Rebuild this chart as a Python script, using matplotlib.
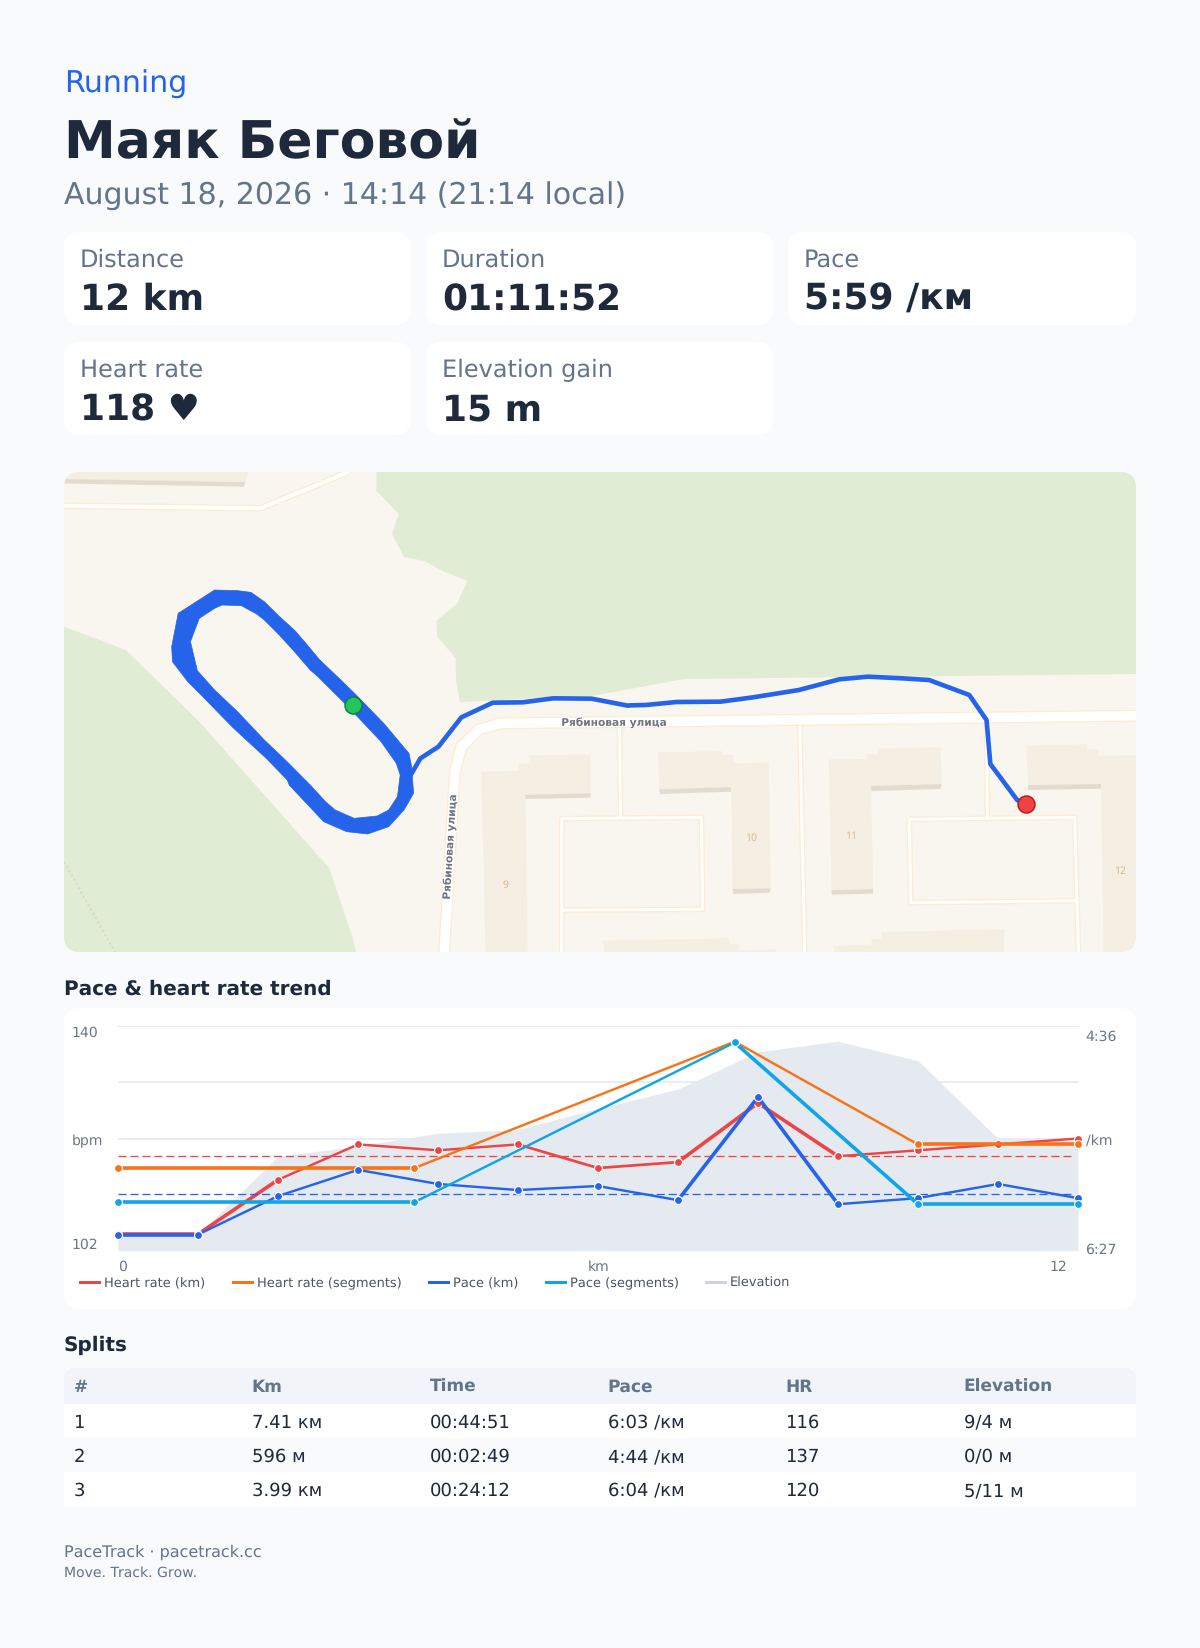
import matplotlib
matplotlib.use("Agg")
import matplotlib.pyplot as plt
from matplotlib.patches import FancyBboxPatch, Polygon, PathPatch, Rectangle
from matplotlib.path import Path
from matplotlib.transforms import Affine2D
import matplotlib.patheffects as pe

plt.rcParams["text.hinting"] = "none"
plt.rcParams["text.hinting_factor"] = 1
plt.rcParams["font.family"] = ["DejaVu Sans"]

# ---------- data ----------
activity = "Running"
title = "Маяк Беговой"
date_line = "August 18, 2026 · 14:14 (21:14 local)"
card_labels = ["Distance", "Duration", "Pace", "Heart rate", "Elevation gain"]
card_values = ["12 km", "01:11:52", "5:59 /км", "118 ♥", "15 m"]

km = [0, 1, 2, 3, 4, 5, 6, 7, 8, 9, 10, 11, 12]
hr_km = [104.8, 104.8, 114, 120, 119, 120, 116, 117, 127, 118, 119, 120, 121]
pace_km = [379, 379, 360, 347, 354, 357, 355, 362, 311, 364, 361, 354, 361]
seg_x = [0, 3.705, 7.708, 10.0, 12]
hr_seg = [116, 116, 137.4, 120, 120]
pace_seg = [363, 363, 284, 364, 364]
elev_x = [0, 1, 2, 3, 4, 5, 6, 7, 8, 9, 10, 11, 12]
elev = [151.1, 151.1, 156.3, 157.0, 157.85, 158.1, 159.5, 160.8, 163.3, 164.0, 162.7, 157.5, 157.3]
hr_avg = 118
pace_avg = 359
hr_ticks = [102, 121, 140]
hr_ticklabels = ["102", "bpm", "140"]
pace_ticks = [276, 331.5, 387]
pace_ticklabels = ["4:36", "/km", "6:27"]
x_ticks = [0, 6.01, 12]
x_ticklabels = ["0", "km", "12"]
grid_hr = [121, 130.5, 140]

split_header = ["#", "Km", "Time", "Pace", "HR", "Elevation"]
split_rows = [
    ["1", "7.41 км", "00:44:51", "6:03 /км", "116", "9/4 м"],
    ["2", "596 м", "00:02:49", "4:44 /км", "137", "0/0 м"],
    ["3", "3.99 км", "00:24:12", "6:04 /км", "120", "5/11 м"],
]

# route (crop coordinates of left / right halves)
loop_outer = [(430,390),(490,392),(525,397),(560,425),(600,470),(640,512),(665,545),(705,600),(760,660),(800,705),
              (872,790),(938,880),(945,920),(950,1000),(925,1050),(885,1100),(830,1122),(775,1115),(715,1085),
              (625,975),(620,960),(565,895),(480,805),(450,770),(395,705),(360,665),(320,605),(318,560),(335,460)]
loop_inner = [(450,435),(430,445),(390,475),(367,545),(385,632),(430,690),(490,755),(560,840),(615,900),(680,975),
              (720,1025),(745,1050),(795,1075),(855,1068),(885,1050),(908,1010),(915,945),(905,910),(865,845),
              (820,790),(770,730),(700,650),(680,630),(635,570),(595,520),(560,480),(540,462),(500,437)]
tail_left = [(945,940),(968,895),(1015,860),(1075,772),(1157,728),(1235,727),(1315,715),(1415,716),(1510,737)]
tail_right = [(80,736),(120,735),(200,726),(315,725),(400,712),(520,690),(625,658),(700,650),(790,655),(860,660),
              (965,705),(1010,780),(1020,912),(1090,1020),(1114,1032)]
start_pt = (793, 736)
end_pt = (1114, 1032)

# ---------- helpers ----------
W, H = 1200, 1648
BG = "#f8fafc"
INK = "#1e293b"
MUTED = "#64748b"
BLUE = "#2563eb"
RED = "#ef4444"
ORANGE = "#f97316"
CYAN = "#0ea5e9"
ELEV = "#e5e9f0"
GRID = "#e2e8f0"

def pt(px):
    return px * 0.72

def zl(p):
    return [(50 + x / 2.613, 460 + y / 3) for x, y in p]

def zr(p):
    return [(600 + x / 2.613, 460 + y / 3) for x, y in p]

fig = plt.figure(figsize=(W / 100, H / 100), dpi=100, facecolor=BG)
bg = fig.add_axes([0, 0, 1, 1], zorder=0)
bg.set_xlim(0, W)
bg.set_ylim(H, 0)
bg.axis("off")

def rbox(x0, y0, x1, y1, r=16, fc="white", z=1):
    p = FancyBboxPatch((x0, y0), x1 - x0, y1 - y0, boxstyle=f"round,pad=0,rounding_size={r}",
                       fc=fc, ec="none", zorder=z)
    bg.add_patch(p)
    return p

def txt(x, y, s, px, color=INK, weight="normal", **kw):
    return bg.text(x, y, s, fontsize=pt(px), color=color, fontweight=weight, va="baseline", ha=kw.pop("ha", "left"), zorder=kw.pop("zorder", 5), **kw)

# ---------- header ----------
txt(64, 93, activity, 30, BLUE)
txt(64, 158.5, title, 52, INK, "bold")
txt(64, 205, date_line, 30, MUTED)

card_x = [(64, 411), (426, 773), (788, 1136), (64, 411), (426, 773)]
card_y = [(232, 325), (232, 325), (232, 325), (342, 435), (342, 435)]
for (x0, x1), (y0, y1), lab, val in zip(card_x, card_y, card_labels, card_values):
    rbox(x0, y0, x1, y1)
    txt(x0 + 16, y0 + 35, lab, 24, MUTED)
    txt(x0 + 16, y0 + 78, val, 36, INK, "bold")

# ---------- map ----------
MX0, MX1, MY0, MY1 = 64, 1136, 472, 952
clip = rbox(MX0, MY0, MX1, MY1, r=16, fc="#f9f6ef", z=1)
GREEN = "#e1ecd5"
BLD = "#f5efe3"
SHADE = "#e3dbcf"
CASE = "#fdecd2"

def poly(points, fc, z=2):
    p = Polygon(points, closed=True, fc=fc, ec="none", zorder=z)
    bg.add_patch(p)
    p.set_clip_path(clip)

def road(points, w, z=3):
    xs, ys = zip(*points)
    a, = bg.plot(xs, ys, color=CASE, lw=pt(w + 2.6), solid_joinstyle="round", solid_capstyle="butt", zorder=z)
    b, = bg.plot(xs, ys, color="white", lw=pt(w), solid_joinstyle="round", solid_capstyle="butt", zorder=z + 0.1)
    a.set_clip_path(clip)
    b.set_clip_path(clip)

green_top = [(376.4,472),(376.4,490.7),(398.6,514),(392,534),(404,557),(424.3,561),(444.2,571.7),(467.5,581),(456.8,604),
             (436.5,620.7),(437.3,636.7),(455.7,658.3),(456,680),(459.9,702),(593.4,695.7),(684.2,679),(1136,674),(1136,472)]
green_left = [(64,626.7),(125.8,650),(199.3,721.7),(329.4,868.3),(352.3,936.7),(356,952),(64,952)]
poly(green_top, GREEN)
poly(green_left, GREEN)
l, = bg.plot([64, 115], [861.7, 952], color="#d5dccd", lw=1.6, ls=(0, (1, 1.2)), zorder=2.2)
l.set_clip_path(clip)

# buildings
poly([(64,472),(248,472),(245.2,482),(64,479)], BLD)
poly([(64,479),(245.2,482),(244,486.7),(64,483.5)], SHADE)
poly([(481.3,771.7),(518.8,770.7),(518.8,764),(530.3,763.3),(530.3,755.3),(590.4,754.3),(590.4,793.3),(525.3,794.7),(527.6,952),(485.5,952)], BLD)
poly([(525.3,794.7),(590.4,793.3),(590.4,797.7),(525.3,799)], SHADE)
poly([(658.2,752.3),(722.5,751.3),(722.5,755),(732.8,755),(732.8,763.3),(768.8,762.3),(770.7,888.3),(732.8,889),(730.9,787),(659.3,789.3)], BLD)
poly([(659.3,789.3),(730.9,787),(730.9,791.7),(660,794)], SHADE)
poly([(732.8,889),(770.7,888.3),(769.9,892.7),(733.2,894)], SHADE)
poly([(828.9,759.3),(867.1,759),(867.1,754.3),(877.5,754.3),(877.5,748.7),(940.6,747.3),(941.7,784),(871,786),(873.2,889),(831.5,890)], BLD)
poly([(871,786),(941.7,784),(940.6,789),(871,791)], SHADE)
poly([(831.5,890),(873.2,889),(872.9,893.7),(831.9,894.7)], SHADE)
poly([(1026.3,745.7),(1087.2,744.3),(1087.2,749.3),(1098.7,749.3),(1098.7,756),(1136,755),(1136,952),(1103.6,952),(1101,784),(1027.9,785)], BLD)
poly([(1027.9,785),(1101,784),(1101,788.7),(1028.2,790)], SHADE)
poly([(603,940.7),(729.4,938.3),(729.4,944),(738.5,944),(738.5,950.7),(775.3,949.3),(776,952),(603.8,952)], BLD)
poly([(834.2,946),(871.7,944.3),(871.7,939),(881.7,939),(881.7,932),(1004.5,929.3),(1004.5,952),(834.2,952)], BLD)

# roads
road([(64,505.7),(260.5,508.3),(348.5,472)], 4)
road([(619.5,726.7),(620.6,817.3)], 3)
road([(561.7,952),(561.7,818.7),(701.4,817.3),(702.6,909.3),(562.8,910)], 3)
road([(799.8,725),(804.7,952)], 3)
road([(986.5,723),(987.3,817.3)], 3)
road([(909.2,819.3),(1074.6,817.3),(1078.4,952)], 3)
road([(909.2,819.3),(910.8,902.7),(1076.5,900.7)], 3)
road([(444.2,952),(454.9,771.7),(461.4,746.7),(479.4,729.3),(500.8,723.3),(650,721.7),(1136,715.7)], 9.5, z=3.5)

for s, x, y in [("9", 505.8, 885.3), ("10", 750.8, 838.3), ("11", 851.4, 836.7), ("12", 1119.7, 871)]:
    t = bg.text(x, y, s, fontsize=pt(10.5), color="#d9b98f", ha="center", va="center", zorder=4, family="Noto Sans")
    t.set_clip_path(clip)
halo = [pe.withStroke(linewidth=1.5, foreground="white")]
bg.text(616, 722.7, "Рябиновая улица", fontsize=pt(10.6), color="#6e7684", fontweight="bold", ha="center", va="center",
        zorder=4, path_effects=halo)
bg.text(450, 845, "Рябиновая улица", fontsize=pt(10.6), color="#6e7684", fontweight="bold", ha="center", va="center",
        rotation=86.5, zorder=4, path_effects=halo)

# route
outer = zl(loop_outer)
inner = zl(loop_inner)
verts = outer + [outer[0]] + inner + [inner[0]]
codes = [Path.MOVETO] + [Path.LINETO] * (len(outer) - 1) + [Path.CLOSEPOLY] + [Path.MOVETO] + [Path.LINETO] * (len(inner) - 1) + [Path.CLOSEPOLY]
ring = PathPatch(Path(verts, codes), fc=BLUE, ec=BLUE, lw=0.5, zorder=6)
bg.add_patch(ring)
tail = zl(tail_left) + zr(tail_right)
bg.plot([p[0] for p in tail], [p[1] for p in tail], color=BLUE, lw=pt(4.6), solid_joinstyle="round", zorder=6)
sx, sy = zl([start_pt])[0]
ex, ey = zr([end_pt])[0]
bg.plot([sx], [sy], "o", ms=pt(17), mfc="#22c55e", mec="#15803d", mew=pt(1.5), zorder=7)
bg.plot([ex], [ey], "o", ms=pt(17), mfc=RED, mec="#b91c1c", mew=pt(1.5), zorder=7)

# ---------- trend chart ----------
txt(64, 995, "Pace & heart rate trend", 20, INK, "bold")
rbox(64, 1008, 1136, 1309)

PX0, PX1, PY0, PY1 = 118, 1079, 1026.3, 1250.7
ax = fig.add_axes([PX0 / W, 1 - PY1 / H, (PX1 - PX0) / W, (PY1 - PY0) / H], zorder=2)
ax.patch.set_alpha(0)
ax.set_xlim(0, 12.0125)
ax.set_ylim(102, 140)
for sp in ax.spines.values():
    sp.set_visible(False)

axg = ax.twinx()
axg.set_ylim(102, 140)
axg.axis("off")
for g in grid_hr:
    axg.axhline(g, color=GRID, lw=pt(1.5), zorder=0.5)
axe = ax.twinx()
axe.set_ylim(150, 165)
axe.axis("off")
axe.patch.set_alpha(0)
axp = ax.twinx()
axp.set_ylim(387, 276)
axp.patch.set_alpha(0)
for sp in axp.spines.values():
    sp.set_visible(False)

axg.set_zorder(2)
axe.set_zorder(3)
ax.set_zorder(4)
axp.set_zorder(5)
ax.patch.set_visible(False)
axg.patch.set_visible(False)

axe.fill_between(elev_x, 150, elev, color=ELEV, lw=0, zorder=1)

def seg_line(a, xs, ys, widths, color, z):
    for i in range(len(xs) - 1):
        a.plot(xs[i:i + 2], ys[i:i + 2], color=color, lw=pt(widths[i]), solid_capstyle="round", zorder=z)
    a.plot(xs, ys, ls="none", marker="o", ms=pt(8), mfc=color, mec="white", mew=pt(1.2), zorder=z + 0.1, clip_on=False)

T, N = 3.6, 2.4
DASH = (0, (6.2, 3))
ax.axhline(hr_avg, color=RED, lw=pt(1.3), ls=DASH, zorder=1.5, xmax=0.994)
axp.axhline(pace_avg, color=BLUE, lw=pt(1.3), ls=DASH, zorder=1.5, xmax=0.994)
seg_line(ax, km, hr_km, [T, T, N, N, N, 2.7, 2.7, T, T, N, N, N], RED, 2)
seg_line(ax, seg_x, hr_seg, [T, N, N, T], ORANGE, 3)
seg_line(axp, km, pace_km, [T, N, N, N, N, N, N, T, T, N, N, N], BLUE, 4)
seg_line(axp, seg_x, pace_seg, [T, N, T, T], CYAN, 5)

TICK = "#6b7689"
def shift(label, dx, dy, ha, va="baseline"):
    label.set_ha(ha)
    label.set_va(va)
    label.set_transform(label.get_transform() + Affine2D().translate(dx, dy))

ax.set_yticks(hr_ticks, hr_ticklabels, fontsize=pt(14), color=TICK)
ax.tick_params(axis="y", length=0, pad=0)
for lab, dy in zip(ax.get_yticklabels(), [1.7, -6.5, -10.4]):
    shift(lab, -46.5, dy, "left")
axp.set_yticks(pace_ticks, pace_ticklabels, fontsize=pt(14), color=TICK)
axp.tick_params(axis="y", length=0, pad=0)
for lab, dy in zip(axp.get_yticklabels(), [-14.4, -6.5, -2.6]):
    shift(lab, 6.5, dy, "left")
ax.set_xticks(x_ticks, x_ticklabels, fontsize=pt(14), color=TICK)
ax.tick_params(axis="x", length=0, pad=0)
for lab, dx, ha in zip(ax.get_xticklabels(), [0, 0, -11], ["left", "center", "right"]):
    shift(lab, dx, -20, ha)

handles = [plt.Line2D([], [], color=c, lw=pt(3)) for c in [RED, ORANGE, BLUE, CYAN, "#cbd5e1"]]
leg = bg.legend(handles, ["Heart rate (km)", "Heart rate (segments)", "Pace (km)", "Pace (segments)", "Elevation"],
                loc="upper left", bbox_to_anchor=(80, 1277), bbox_transform=bg.transData, ncol=5, frameon=False,
                fontsize=pt(12.9), handlelength=19 / 12.9, handletextpad=5 / 12.9, columnspacing=27.4 / 12.9, borderpad=0, borderaxespad=0,
                labelcolor="#475569")
leg.set_zorder(6)

# ---------- splits ----------
txt(64, 1350.7, "Splits", 20, INK, "bold")
rbox(64, 1368, 1136, 1430, r=12, fc="#f1f5f9")
for y0, y1, fc in [(1404, 1438, "white"), (1438, 1472, BG), (1472, 1507, "white")]:
    bg.add_patch(Rectangle((64, y0), 1072, y1 - y0, fc=fc, ec="none", zorder=2))
col_x = [73.5, 251.5, 429.5, 607.5, 785.5, 963.5]
for x, h in zip(col_x, split_header):
    txt(x, 1392.2, h, 17, MUTED, "bold")
for y, row in zip([1428.2, 1462, 1496], split_rows):
    for x, c in zip(col_x, row):
        txt(x, y, c, 18, INK)

txt(64, 1556.7, "PaceTrack · pacetrack.cc", 16, MUTED)
txt(64, 1576.7, "Move. Track. Grow.", 14, MUTED)

fig.savefig("out.png", dpi=100, facecolor=BG)
